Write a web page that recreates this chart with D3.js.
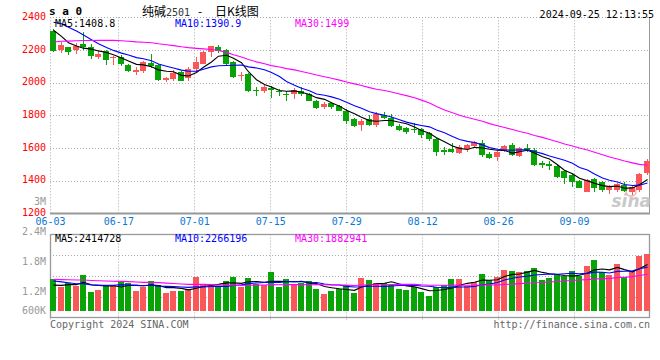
<!DOCTYPE html>
<html><head><meta charset="utf-8">
<script src="https://cdn.jsdelivr.net/npm/d3@7"></script>
<style>body{margin:0;background:#fff}svg{display:block}</style>
</head><body>
<svg id="c" width="660" height="360"></svg>
<script>
// ---------- data ----------
const dates = ["06-03","06-04","06-05","06-06","06-07","06-11","06-12","06-13","06-14","06-17",
"06-18","06-19","06-20","06-21","06-24","06-25","06-26","06-27","06-28","07-01",
"07-02","07-03","07-04","07-05","07-08","07-09","07-10","07-11","07-12","07-15",
"07-16","07-17","07-18","07-19","07-22","07-23","07-24","07-25","07-26","07-29",
"07-30","07-31","08-01","08-02","08-05","08-06","08-07","08-08","08-09","08-12",
"08-13","08-14","08-15","08-16","08-19","08-20","08-21","08-22","08-23","08-26",
"08-27","08-28","08-29","08-30","09-02","09-03","09-04","09-05","09-06","09-09",
"09-10","09-11","09-12","09-13","09-18","09-19","09-20","09-23","09-24","09-25"];
const open = [2315,2201,2217,2200,2237,2217,2156,2194,2148,2160,2109,2068,2072,2119,2109,2017,2021,2068,2028,2085,
2115,2187,2217,2199,2124,2038,2054,1956,1950,1966,1950,1929,1929,1950,1932,1889,1850,1875,1858,1828,
1775,1738,1776,1740,1801,1782,1735,1724,1715,1714,1692,1654,1590,1592,1571,1591,1612,1628,1561,1546,
1581,1618,1550,1601,1587,1505,1500,1491,1459,1434,1398,1332,1408,1390,1343,1343,1373,1332,1343,1444];
const high = [2327,2248,2220,2241,2307,2237,2191,2200,2166,2170,2113,2093,2130,2174,2113,2036,2075,2072,2093,2154,
2191,2222,2231,2207,2130,2068,2058,1971,1983,1977,1960,1950,1966,1971,1936,1891,1879,1881,1864,1840,
1781,1780,1801,1818,1822,1806,1745,1731,1750,1720,1698,1659,1607,1628,1618,1622,1644,1648,1577,1587,
1618,1628,1607,1622,1597,1520,1520,1495,1465,1438,1404,1410,1414,1398,1373,1383,1390,1373,1448,1532];
const low = [2190,2180,2170,2176,2199,2146,2146,2109,2109,2099,2064,2048,2058,2089,2007,2001,2013,2007,2013,2068,
2113,2160,2180,2109,2028,2011,1940,1919,1936,1905,1916,1889,1899,1916,1885,1840,1837,1840,1824,1745,
1730,1704,1733,1730,1780,1730,1704,1686,1690,1662,1640,1548,1557,1567,1561,1577,1598,1546,1532,1520,
1573,1550,1546,1577,1489,1479,1465,1418,1378,1363,1353,1328,1328,1332,1316,1328,1328,1312,1332,1434];
const close = [2193,2231,2187,2227,2217,2164,2176,2139,2158,2115,2072,2075,2124,2103,2017,2028,2062,2013,2085,2125,
2187,2222,2191,2115,2034,2048,1946,1946,1971,1956,1942,1922,1956,1929,1889,1844,1870,1850,1828,1763,
1737,1766,1743,1811,1786,1737,1710,1700,1708,1680,1652,1573,1578,1578,1607,1618,1638,1557,1540,1577,
1612,1557,1597,1588,1495,1493,1487,1424,1418,1390,1357,1404,1353,1343,1359,1377,1336,1363,1440,1520];
const volume = [1640000,1220000,1420000,1280000,1840000,970000,1070000,1280000,1330000,1500000,
1440000,1020000,1210000,1530000,1330000,910000,1020000,1020000,1130000,1750000,
1380000,1290000,1290000,1530000,1750000,1240000,1690000,1370000,1330000,2000000,
1240000,1640000,1330000,1420000,1530000,1130000,860000,1040000,1130000,1330000,
930000,1710000,1590000,1450000,1450000,1330000,1130000,1090000,1210000,970000,
780000,1210000,1330000,1640000,1640000,1290000,1500000,1910000,1590000,1760000,
2120000,2060000,2020000,2060000,2220000,1590000,1710000,1840000,1790000,2060000,
1790000,2330000,2640000,2020000,1840000,2430000,1750000,2060000,2840000,2950000];
// closes / volumes of the 29 sessions before the window (estimated from the MA curves at the left edge)
const prevCloses = [2120,2145,2160,2170,2161,2140,2155,2170,2165,2180,2190,2185,2200,2210,2205,2220,2230,2240,2250,2281,
2330,2400,2450,2470,2445,2420,2380,2330,2282];
const prevVolumes = [1550000,1700000,1620000,1800000,1750000,1580000,1660000,1720000,1600000,1850000,
1640000,1700000,1590000,1770000,1680000,1620000,1740000,1660000,1580000,1590000,
1650000,1900000,1800000,1720000,1680000,1300000,1220000,1280000,1210000];
const priceTicks = [2400,2200,2000,1800,1600,1400,1200];
const dateTicks = ["06-03","06-17","07-01","07-15","07-29","08-12","08-26","09-09"];
const volumeTickValues = [3000000,2400000,1800000,1200000,600000];
const volumeTickLabels = ["3M","2.4M","1.8M","1.2M","600K"];
const maPeriods = [5,10,30];
const maPriceLegend = ["MA5:1408.8","MA10:1390.9","MA30:1499"];
const maVolumeLegend = ["MA5:2414728","MA10:2266196","MA30:1882941"];

// ---------- drawing ----------
const svg = d3.select("#c");
const L = 50, R = 650;
const mainTop = 17.3, mainBot = 213.3, volTop = 234.5, volBot = 317.5;
const mono = "DejaVu Sans Mono, monospace";
const RED = "#fa5858", GREEN = "#07a307";
const maColors = ["#000000","#0000ff","#ff00ff"];
const grid = "#aaaaaa";

const x = d3.scaleBand().domain(dates).range([L, R]).paddingInner(0.2).paddingOuter(0);
const xg = d3.scalePoint().domain(dates).range([L, R]);
const y = d3.scaleLinear().domain([1200, 2400]).range([mainBot, mainTop]);
const yv = d3.scaleLinear().domain([0, 3960000]).range([310.7, volTop]);
const yvLab = d3.scaleLinear().domain([600000, 3000000]).range([321, 201]);
const bw = x.bandwidth();
const cx = i => Math.round(x(dates[i]) + bw / 2) + 0.5;
const px = v => Math.round(v) + 0.5;

function movingAvg(prev, cur, n) {
  const all = prev.concat(cur), off = prev.length;
  return cur.map((_, i) => d3.mean(all.slice(off + i - n + 1, off + i + 1)));
}

// gridlines
const g = svg.append("g").attr("stroke", grid).attr("stroke-dasharray", "1,2").attr("fill", "none");
priceTicks.filter(t => t !== 1200).forEach(t => {
  g.append("line").attr("x1", L).attr("x2", R).attr("y1", px(y(t))).attr("y2", px(y(t)));
});
dateTicks.forEach(d => {
  const xx = px(xg(d));
  g.append("line").attr("x1", xx).attr("x2", xx).attr("y1", mainTop).attr("y2", mainBot);
  g.append("line").attr("x1", xx).attr("x2", xx).attr("y1", volTop).attr("y2", volBot + 3);
});
[0.25, 0.5, 0.75].forEach(f => {
  const yy = px(volTop + (volBot - volTop) * f);
  g.append("line").attr("x1", L).attr("x2", R).attr("y1", yy).attr("y2", yy);
});

// frames
const fr = svg.append("g").attr("stroke", "#999").attr("fill", "none");
fr.append("line").attr("x1", L).attr("x2", R).attr("y1", 213.5).attr("y2", 213.5).attr("stroke-width", 2);
fr.append("line").attr("x1", 649.5).attr("x2", 649.5).attr("y1", mainTop).attr("y2", 214);
fr.append("rect").attr("x", 50.5).attr("y", volTop).attr("width", 599).attr("height", volBot - volTop).attr("stroke-width", 1.3);

// watermark
const wm = svg.append("g").attr("opacity", 0.9);
wm.append("text").attr("x", 651).attr("y", 207).attr("text-anchor", "end")
  .attr("font-family", "DejaVu Sans, sans-serif").attr("font-style", "italic").attr("font-weight", "bold")
  .attr("font-size", 17).attr("fill", "#c4c4c4").text("sina");
wm.append("ellipse").attr("cx", 631).attr("cy", 192).attr("rx", 5).attr("ry", 4)
  .attr("fill", "none").attr("stroke", "#f2a8a8").attr("stroke-width", 1.5);

// candles + volume bars
const cg = svg.append("g").attr("shape-rendering", "crispEdges");
dates.forEach((d, i) => {
  const up = close[i] >= open[i];
  const col = up ? RED : GREEN;
  cg.append("line").attr("x1", cx(i)).attr("x2", cx(i)).attr("y1", y(high[i])).attr("y2", y(low[i])).attr("stroke", col);
  const top = y(Math.max(open[i], close[i])), bot = y(Math.min(open[i], close[i]));
  cg.append("rect").attr("x", Math.round(x(d))).attr("width", Math.round(bw))
    .attr("y", top).attr("height", Math.max(1, bot - top)).attr("fill", col);
  cg.append("rect").attr("x", Math.round(x(d))).attr("width", Math.round(bw))
    .attr("y", yv(volume[i])).attr("height", yv(0) - yv(volume[i])).attr("fill", col);
});

// MA lines
const idx = d3.range(dates.length);
maPeriods.forEach((n, k) => {
  const mp = movingAvg(prevCloses, close, n);
  svg.append("path").attr("fill", "none").attr("stroke", maColors[k]).attr("stroke-width", 1.1)
    .attr("d", d3.line().x(i => cx(i)).y(i => y(mp[i]))(idx));
  const mv = movingAvg(prevVolumes, volume, n);
  svg.append("path").attr("fill", "none").attr("stroke", maColors[k]).attr("stroke-width", 1.1)
    .attr("d", d3.line().x(i => cx(i)).y(i => yv(mv[i]))(idx));
});

// legends
maPriceLegend.forEach((t, k) => {
  svg.append("text").attr("x", 55 + 120 * k).attr("y", 26.5).attr("font-family", mono).attr("font-size", 10)
    .attr("fill", maColors[k]).text(t);
});
maVolumeLegend.forEach((t, k) => {
  svg.append("text").attr("x", 55 + 120 * k).attr("y", 242).attr("font-family", mono).attr("font-size", 10)
    .attr("fill", maColors[k]).text(t);
});

// price axis labels
const ya = svg.append("g").attr("transform", `translate(${L},0)`)
  .call(d3.axisLeft(y).tickValues(priceTicks).tickSize(0).tickPadding(4).tickFormat(d3.format("d")));
ya.select(".domain").remove();
ya.selectAll("text").attr("font-family", mono).attr("font-size", 10).attr("fill", "#ff0000").attr("dy", "0.22em");

// date labels
const xa = svg.append("g").attr("transform", `translate(0,${mainBot})`)
  .call(d3.axisBottom(xg).tickValues(dateTicks).tickSize(0).tickPadding(5));
xa.select(".domain").remove();
xa.selectAll("text").attr("font-family", mono).attr("font-size", 10).attr("fill", "#0a78d2");

// volume labels
volumeTickValues.forEach((v, k) => {
  svg.append("text").attr("x", 46).attr("y", Math.min(yvLab(v), 310.7) + 3.5).attr("text-anchor", "end")
    .attr("font-family", mono).attr("font-size", 10).attr("fill", "#999").text(volumeTickLabels[k]);
});

// header
svg.append("text").attr("x", 49).attr("y", 15).attr("font-family", mono).attr("font-weight", "bold")
  .attr("font-size", 11).attr("fill", "#000").text("s a 0");
const tt = svg.append("text").attr("y", 15.5).attr("fill", "#000").attr("font-family", "Noto Sans CJK SC, sans-serif").attr("font-size", 12);
tt.append("tspan").attr("x", 142).text("纯碱");
tt.append("tspan").attr("x", 166).attr("font-family", mono).attr("font-size", 10).attr("fill", "#333").text("2501");
tt.append("tspan").attr("x", 198).text("-");
tt.append("tspan").attr("x", 215).text("日K线图");
svg.append("text").attr("x", 654).attr("y", 17.5).attr("text-anchor", "end").attr("font-family", mono)
  .attr("font-size", 10).attr("fill", "#000").text("2024-09-25 12:13:55");

// footer
svg.append("text").attr("x", 50).attr("y", 328).attr("font-family", mono).attr("font-size", 10).attr("fill", "#666").text("Copyright 2024 SINA.COM");
svg.append("text").attr("x", 650).attr("y", 328).attr("text-anchor", "end").attr("font-family", mono).attr("font-size", 10).attr("fill", "#666").text("http://finance.sina.com.cn");
</script>
</body></html>
